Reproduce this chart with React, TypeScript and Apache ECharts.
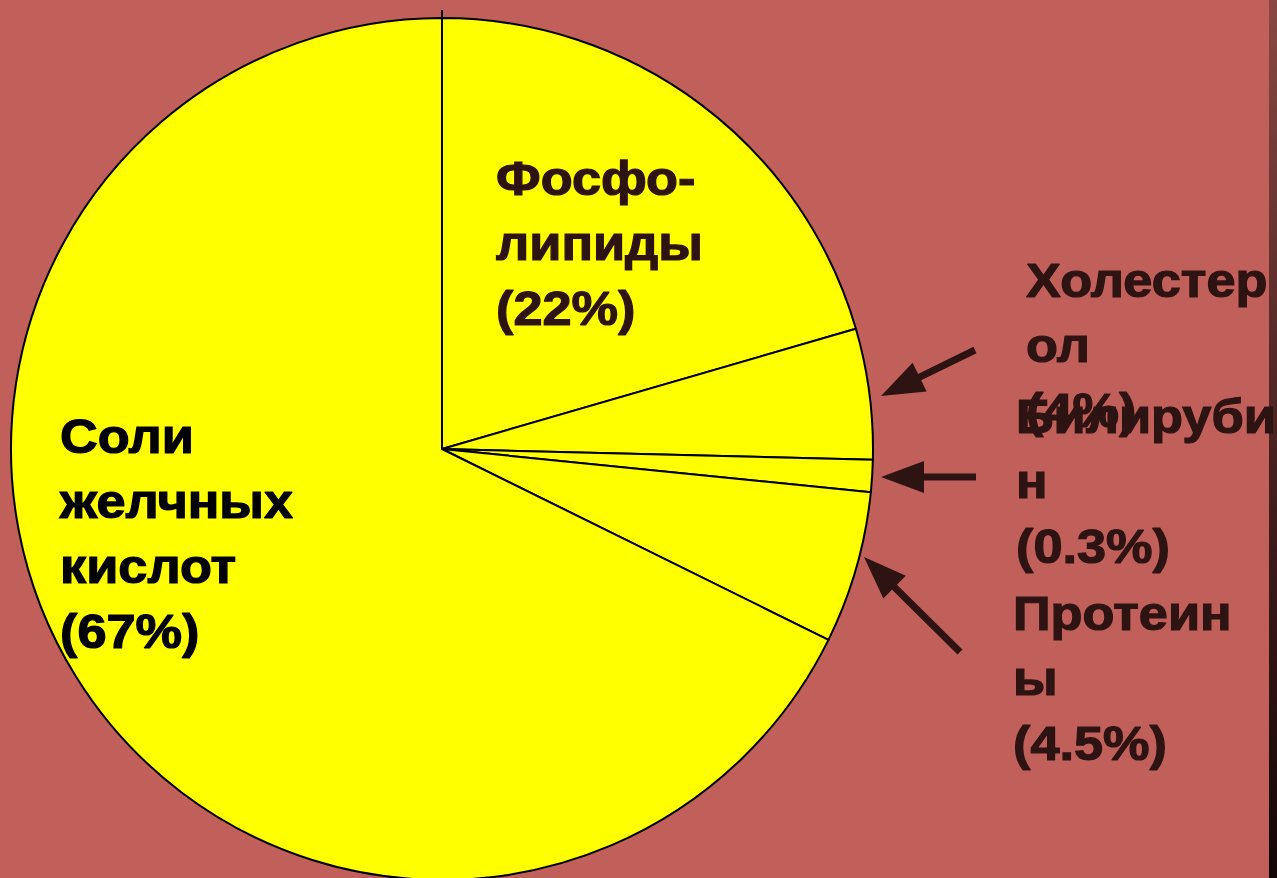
import React, { useEffect, useRef } from "react";
import * as echarts from "echarts";

// Slice names and values
const sliceNames = ["Фосфолипиды", "Холестерол", "Билирубин", "Протеины", "Соли желчных кислот"];
const sliceValues = [20.5, 4.9, 1.2, 5.7, 67.7];

// Label texts as shown on the picture
const labelLines: string[][] = [
  ["Фосфо-", "липиды", "(22%)"],
  ["Холестер", "ол", "(4%)"],
  ["Билируби", "н", "(0.3%)"],
  ["Протеин", "ы", "(4.5%)"],
  ["Соли", "желчных", "кислот", "(67%)"],
];

const BG = "#C1605A";
const TEXT_BROWN = "#2D1311";

export default function App() {
  const ref = useRef<HTMLDivElement>(null);

  useEffect(() => {
    if (!ref.current) return;
    const chart = echarts.init(ref.current, null, { renderer: "svg" });

    const labelPos = [
      { x: 496, y: 146, color: TEXT_BROWN },
      { x: 1026, y: 248, color: TEXT_BROWN },
      { x: 1016, y: 384, color: TEXT_BROWN },
      { x: 1013, y: 581, color: TEXT_BROWN },
      { x: 60, y: 404, color: "#000000" },
    ];

    const texts = labelLines.map((lines, i) => ({
      type: "text",
      x: labelPos[i].x,
      y: labelPos[i].y,
      scaleX: 1.09,
      z: 10,
      style: {
        text: lines.join("\n"),
        fill: labelPos[i].color,
        stroke: labelPos[i].color,
        lineWidth: 1.2,
        font: "bold 48px 'Liberation Sans', Arial, sans-serif",
        lineHeight: 65,
        textAlign: "left",
        textVerticalAlign: "top",
      },
    }));

    const arrow = (x1: number, y1: number, x2: number, y2: number) => {
      const dx = x2 - x1;
      const dy = y2 - y1;
      const len = Math.sqrt(dx * dx + dy * dy);
      const ux = dx / len;
      const uy = dy / len;
      const headLen = 43;
      const headHalf = 16;
      const bx = x2 - ux * headLen;
      const by = y2 - uy * headLen;
      const px = -uy;
      const py = ux;
      return [
        {
          type: "line",
          z: 10,
          shape: { x1, y1, x2: bx + ux * 4, y2: by + uy * 4 },
          style: { stroke: TEXT_BROWN, lineWidth: 7 },
        },
        {
          type: "polygon",
          z: 10,
          shape: {
            points: [
              [x2, y2],
              [bx + px * headHalf, by + py * headHalf],
              [bx - px * headHalf, by - py * headHalf],
            ],
          },
          style: { fill: TEXT_BROWN },
        },
      ];
    };

    const option: any = {
      animation: false,
      backgroundColor: BG,
      series: [
        {
          type: "pie",
          center: [442, 449],
          radius: [0, 431],
          startAngle: 90,
          clockwise: true,
          label: { show: false },
          labelLine: { show: false },
          emphasis: { disabled: true },
          itemStyle: { color: "#FFFF00", borderColor: "#000000", borderWidth: 2 },
          data: sliceNames.map((n, i) => ({ name: n, value: sliceValues[i] })),
        },
      ],
      graphic: [
        {
          type: "line",
          z: 5,
          shape: { x1: 442, y1: 10, x2: 442, y2: 20 },
          style: { stroke: "#000", lineWidth: 2 },
        },
        {
          type: "rect",
          z: 5,
          shape: { x: 1269, y: 0, width: 8, height: 878 },
          style: {
            fill: new echarts.graphic.LinearGradient(0, 0, 0, 1, [
              { offset: 0, color: "#8A4842" },
              { offset: 0.5, color: "#4A2220" },
              { offset: 1, color: "#120707" },
            ]),
          },
        },
        ...arrow(975, 350, 881, 396),
        ...arrow(976, 477, 881, 477),
        ...arrow(960, 652, 864, 557),
        ...texts,
      ],
    };

    chart.setOption(option);
    return () => chart.dispose();
  }, []);

  return (
    <div
      ref={ref}
      style={{ position: "absolute", left: 0, top: 0, width: 1277, height: 878 }}
    />
  );
}
